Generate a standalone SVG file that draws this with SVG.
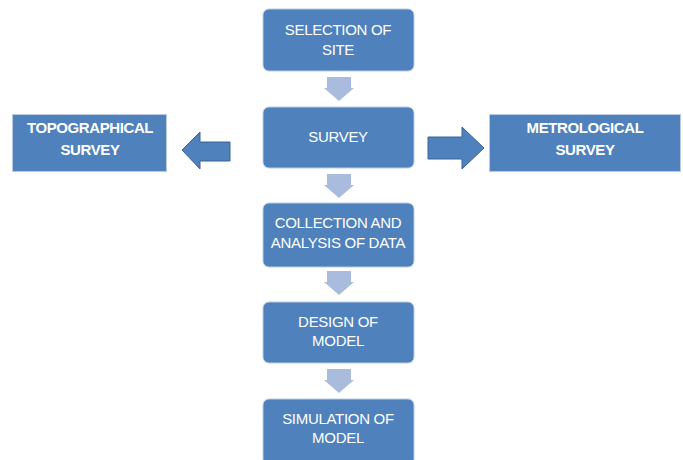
<svg xmlns="http://www.w3.org/2000/svg" width="683" height="460" viewBox="0 0 683 460">
  <defs>
    <style>
      .step { fill: #4f81bd; stroke: #b9cbe4; stroke-width: 1; }
      .side { fill: #4f81bd; stroke: #b9cbe4; stroke-width: 1; }
      .lbl { fill: #ffffff; font-family: "Liberation Sans", Arial, sans-serif; font-size: 15px; text-anchor: middle; letter-spacing: -0.3px; }
      .bold { font-weight: bold; letter-spacing: -0.4px; }
      .down { fill: #a9bcdd; }
      .block { fill: #4f81bd; stroke: #3a6496; stroke-width: 1; }
    </style>
  </defs>
  <rect width="683" height="460" fill="#ffffff"/>

  <!-- connectors -->
  <g id="connectors">
    <polygon class="down" points="327,77 351,77 351,88 354,88 339,101 324,88 327,88"/>
    <polygon class="down" points="327,174 351,174 351,185 354,185 339,198 324,185 327,185"/>
    <polygon class="down" points="327,271 351,271 351,282 354,282 339,295 324,282 327,282"/>
    <polygon class="down" points="327,369 351,369 351,380 354,380 339,393 324,380 327,380"/>
    <polygon class="block" points="230,142 230,161 200,161 200,169 182,150 200,132 200,142"/>
    <polygon class="block" points="428,137 462,137 462,127 484,148 462,169 462,159 428,159"/>
  </g>

  <g id="selection">
    <rect class="step" x="263" y="9" width="151" height="62" rx="6"/>
    <text class="lbl" x="338" y="35">SELECTION OF</text>
    <text class="lbl" x="338" y="55">SITE</text>
  </g>

  <g id="survey">
    <rect class="step" x="263" y="107" width="151" height="61" rx="6"/>
    <text class="lbl" x="338" y="142">SURVEY</text>
  </g>

  <g id="collection">
    <rect class="step" x="263" y="203" width="151" height="64" rx="6"/>
    <text class="lbl" x="338" y="228">COLLECTION AND</text>
    <text class="lbl" x="338" y="248">ANALYSIS OF DATA</text>
  </g>

  <g id="design">
    <rect class="step" x="263" y="302" width="151" height="61" rx="6"/>
    <text class="lbl" x="338" y="327">DESIGN OF</text>
    <text class="lbl" x="338" y="346">MODEL</text>
  </g>

  <g id="simulation">
    <rect class="step" x="263" y="399" width="151" height="66" rx="6"/>
    <text class="lbl" x="338" y="424">SIMULATION OF</text>
    <text class="lbl" x="338" y="443">MODEL</text>
  </g>

  <g id="topographical">
    <rect class="side" x="12.5" y="114.5" width="154" height="57"/>
    <text class="lbl bold" x="90" y="133">TOPOGRAPHICAL</text>
    <text class="lbl bold" x="90" y="155">SURVEY</text>
  </g>

  <g id="metrological">
    <rect class="side" x="489.5" y="114.5" width="191" height="57"/>
    <text class="lbl bold" x="585" y="133">METROLOGICAL</text>
    <text class="lbl bold" x="585" y="155">SURVEY</text>
  </g>
</svg>
